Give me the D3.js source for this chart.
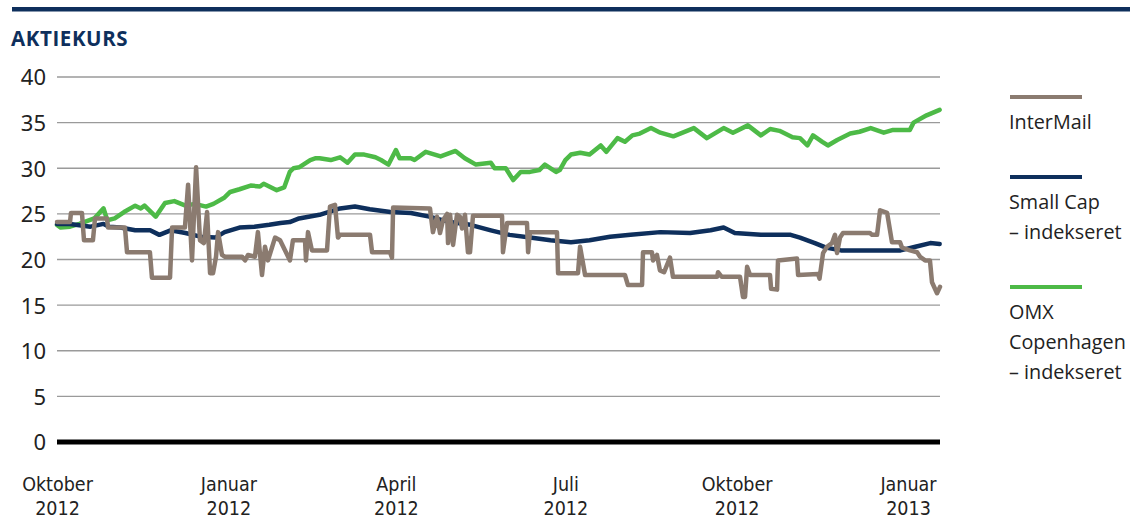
<!DOCTYPE html>
<html>
<head>
<meta charset="utf-8">
<script src="https://cdn.jsdelivr.net/npm/d3@7/dist/d3.min.js"></script>
<style>
  body { margin: 0; background: #fff; }
  svg { display: block; }
</style>
</head>
<body>
<svg id="chart" width="1130" height="519"></svg>
<script>
// ---- data (x = days since start of period, y = share price / index) ----
const yTicks = [0, 5, 10, 15, 20, 25, 30, 35, 40];
const xTickDays = [0, 92, 182, 273, 365, 457];
const xTickLabels = [["Oktober", "2012"], ["Januar", "2012"], ["April", "2012"], ["Juli", "2012"], ["Oktober", "2012"], ["Januar", "2013"]];
const seriesNames = ["InterMail", "Small Cap\n– indekseret", "OMX\nCopenhagen\n– indekseret"];

const omxDays = [0,2,7,12,20,25,27,31,36,42,45,47,53,58,63,69,74,80,84,90,93,98,104,109,111,118,122,125,127,130,136,139,141,147,152,156,160,165,171,174,178,182,184,190,192,198,206,214,219,225,233,235,241,245,249,254,259,262,268,270,273,276,281,286,292,295,301,305,309,313,319,324,331,342,349,358,363,371,378,383,388,395,399,403,406,411,414,419,426,431,437,444,449,458,460,467,474];
const omxValues = [23.8,23.5,23.6,23.9,24.5,25.6,24.3,24.5,25.2,25.9,25.6,25.9,24.7,26.2,26.4,25.9,26.1,25.8,26.1,26.8,27.4,27.7,28.1,28.0,28.3,27.6,27.9,29.6,30.0,30.1,30.9,31.1,31.1,30.9,31.2,30.6,31.5,31.5,31.2,30.9,30.4,32.0,31.1,31.1,30.9,31.8,31.3,31.9,31.1,30.4,30.6,30.0,30.0,28.7,29.6,29.6,29.8,30.4,29.6,29.8,30.9,31.5,31.7,31.5,32.5,31.8,33.3,32.9,33.6,33.8,34.4,33.9,33.5,34.4,33.3,34.4,33.9,34.7,33.6,34.3,34.1,33.4,33.3,32.5,33.6,32.9,32.5,33.1,33.8,34.0,34.4,33.9,34.2,34.2,35.0,35.8,36.4];

const smallCapDays = [0,7,18,25,28,34,42,50,55,61,69,77,85,90,98,106,114,120,125,130,141,152,160,168,179,190,200,211,222,233,243,254,265,276,286,297,308,324,340,351,358,364,378,394,399,407,413,421,437,453,461,469,474];
const smallCapValues = [23.9,23.9,23.6,23.9,23.6,23.5,23.2,23.2,22.7,23.2,22.9,22.5,22.4,23.0,23.5,23.6,23.8,24.0,24.1,24.5,24.9,25.6,25.8,25.5,25.2,25.1,24.7,24.1,23.8,23.2,22.7,22.4,22.1,21.9,22.1,22.5,22.7,23.0,22.9,23.2,23.5,22.9,22.7,22.7,22.4,21.8,21.3,21.0,21.0,21.0,21.4,21.8,21.7];

const interMailDays = [0,7,7.5,13.4,14.5,19.3,20.4,26.9,27.4,36.5,37.6,49.9,51,60.7,61.8,68.7,70.4,72.5,74.7,76.8,78.9,80.6,82.2,83.8,85.4,86.5,88.6,90.2,99.4,101,102.6,106.3,107.9,110.1,111.7,113.3,117.1,119.8,125.1,126.7,133.2,133.7,134.8,136.9,145,146.6,149.3,150.9,152,168.1,169.2,178.8,179.9,180.5,200.3,201.9,204.1,205.7,207.3,209.5,210,211.1,212.7,214.8,216.4,217.5,219.1,220.7,221.8,223.4,239,239.5,241.7,252.4,253,254,268.5,269.1,279.8,280.9,283.6,305,306.6,314.2,314.7,319.5,320.1,322.2,323.8,326,329.2,330.8,354.5,355,357,366.8,368.4,369.5,370.6,372.2,382.9,383.5,386.7,387.2,397.4,398,408.7,409.5,411.4,413.5,416.2,417.8,418.9,420.5,422.1,436.6,437.7,440.4,442,445.8,448.4,452.7,453.8,458.1,461.9,463.5,466.2,468.8,469.9,472.6,474.2];
const interMailValues = [24.1,24.1,25.1,25.1,22.1,22.1,24.5,24.5,23.5,23.5,20.8,20.8,18.0,18.0,23.5,23.5,28.2,19.9,30.1,22.1,21.8,25.2,18.5,18.5,20.3,23.0,20.5,20.3,20.3,19.9,20.5,20.3,23.0,18.3,21.4,19.9,22.4,22.1,19.9,22.1,22.1,19.9,23.0,21.0,21.0,25.8,26.0,22.4,22.7,22.7,20.8,20.8,20.2,25.7,25.6,23.0,24.7,22.9,24.3,25.0,21.8,24.9,21.6,24.9,24.7,23.4,24.9,20.8,20.8,24.8,24.8,20.8,24.0,24.0,20.8,23.0,23.0,18.5,18.5,21.4,18.3,18.3,17.2,17.2,20.8,20.8,19.9,20.5,18.8,18.6,20.2,18.1,18.1,18.6,18.1,18.1,15.9,15.9,19.2,18.3,18.3,16.8,16.7,19.9,20.1,18.3,18.4,17.9,20.7,21.4,21.8,22.7,20.7,22.4,22.9,22.9,22.7,22.7,25.4,25.1,21.9,21.9,21.3,21.0,20.8,20.3,19.9,19.9,17.5,16.3,17.0];

const colors = { navy: "#0e2f5c", green: "#4dba47", brown: "#8b7b70", grid: "#9a9a9a" };

// ---- layout ----
const svg = d3.select("#chart");
const x = d3.scaleLinear().domain([0, 474.2]).range([57, 940]);
const y = d3.scaleLinear().domain([0, 40]).range([442, 77]);

// top rule and title
svg.append("rect").attr("x", 12).attr("y", 7).attr("width", 1118).attr("height", 4.5).attr("fill", colors.navy);
svg.append("text").attr("x", 11).attr("y", 46)
  .attr("font-family", "'Open Sans', 'Noto Sans', sans-serif").attr("font-weight", 700)
  .attr("font-size", 20.5).attr("letter-spacing", 0.6).attr("fill", colors.navy).text("AKTIEKURS");

// y grid + labels
const yAxis = d3.axisLeft(y).tickValues(yTicks).tickSize(0).tickPadding(0);
const gy = svg.append("g").attr("transform", "translate(46,0)").call(yAxis);
gy.select(".domain").remove();
gy.selectAll("text").attr("font-family", "'Noto Sans', 'Open Sans', sans-serif")
  .attr("font-size", 22).attr("fill", "#222").attr("dy", "0.36em");

svg.append("g").selectAll("line").data(yTicks.filter(d => d !== 0)).join("line")
  .attr("x1", 57).attr("x2", 940).attr("y1", d => y(d)).attr("y2", d => y(d))
  .attr("stroke", colors.grid).attr("stroke-width", 1.3);

// x axis labels
const xAxis = d3.axisBottom(x).tickValues(xTickDays).tickSize(0).tickFormat("");
const gx = svg.append("g").attr("transform", "translate(0,442)").call(xAxis);
gx.select(".domain").remove();
gx.selectAll(".tick").each(function(d, i) {
  const t = d3.select(this).append("text")
    .attr("text-anchor", "middle").attr("fill", "#222")
    .attr("font-family", "'Liberation Sans Narrow', 'DejaVu Sans Condensed', sans-serif")
    .attr("font-size", 19.5);
  t.append("tspan").attr("x", 0).attr("y", 49).text(xTickLabels[i][0]);
  t.append("tspan").attr("x", 0).attr("y", 73).text(xTickLabels[i][1]);
});

// series lines
const line = d3.line().x(d => x(d[0])).y(d => y(d[1]));
const zip = (a, b) => a.map((v, i) => [v, b[i]]);
const series = [
  { data: zip(omxDays, omxValues), color: colors.green },
  { data: zip(smallCapDays, smallCapValues), color: colors.navy },
  { data: zip(interMailDays, interMailValues), color: colors.brown }
];
svg.append("g").selectAll("path").data(series).join("path")
  .attr("d", d => line(d.data)).attr("fill", "none")
  .attr("stroke", d => d.color).attr("stroke-width", 4.5)
  .attr("stroke-linejoin", "round").attr("stroke-linecap", "round");

// zero line
svg.append("line").attr("x1", 57).attr("x2", 940).attr("y1", y(0)).attr("y2", y(0))
  .attr("stroke", "#000").attr("stroke-width", 5);

// legend
const legend = [
  { name: seriesNames[0], color: colors.brown, y: 97 },
  { name: seriesNames[1], color: colors.navy, y: 177 },
  { name: seriesNames[2], color: colors.green, y: 287 }
];
const lg = svg.append("g").selectAll("g").data(legend).join("g");
lg.append("line").attr("x1", 1010).attr("x2", 1082).attr("y1", d => d.y).attr("y2", d => d.y)
  .attr("stroke", d => d.color).attr("stroke-width", 4);
lg.append("text").attr("font-family", "'Open Sans', 'Noto Sans', sans-serif").attr("font-size", 19.8)
  .attr("fill", "#222")
  .each(function(d) {
    const t = d3.select(this);
    d.name.split("\n").forEach((s, i) => {
      t.append("tspan").attr("x", 1009).attr("y", d.y + 32 + i * 30).text(s);
    });
  });
</script>
</body>
</html>
